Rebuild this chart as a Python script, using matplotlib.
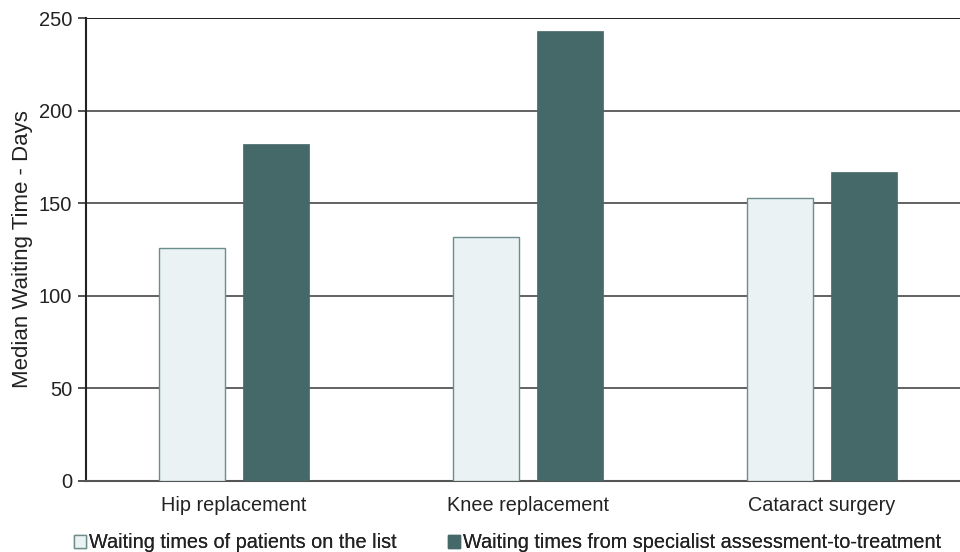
import matplotlib
matplotlib.use("Agg")
import matplotlib.pyplot as plt
import numpy as np
from matplotlib.patches import Patch

categories = ["Hip replacement", "Knee replacement", "Cataract surgery"]
on_list = [126, 132, 153]
assessment_to_treatment = [182, 243, 167]
series_labels = ["Waiting times of patients on the list",
                 "Waiting times from specialist assessment-to-treatment"]
y_ticks = [0, 50, 100, 150, 200, 250]

plt.rcParams["font.family"] = ["Liberation Sans", "DejaVu Sans"]

light = "#eaf2f4"
light_edge = "#6e8c8c"
dark = "#456868"
text_col = "#222222"
fs = 14.3

fig = plt.figure(figsize=(9.6, 5.52), dpi=100)
ax = fig.add_axes([86 / 960, 1 - 481 / 552, 1 - 86 / 960, (481 - 18) / 552])

x = np.arange(len(categories))
w = 0.2245
off = 0.143
ax.bar(x - off, on_list, w, color=light, edgecolor=light_edge, linewidth=1.0, zorder=3)
ax.bar(x + off, assessment_to_treatment, w, color=dark, edgecolor=dark, linewidth=0.5, zorder=3)

ax.set_xlim(-0.503, 2.469)
ax.set_ylim(0, 250)
ax.set_yticks(y_ticks)
ax.set_yticklabels([str(v) for v in y_ticks], fontsize=14.5, color=text_col)
ax.set_xticks(x)
ax.set_xticklabels(categories, fontsize=fs, color=text_col)
ax.tick_params(axis="x", length=0, pad=11)
ax.tick_params(axis="y", length=6, width=1.2, color="#333333", pad=4)

for v in y_ticks[1:]:
    ax.axhline(v, color="#555555", linewidth=1.3, zorder=1)
ax.axhline(250, color="#222222", linewidth=1.4, zorder=1)

for s in ["top", "right"]:
    ax.spines[s].set_visible(False)
ax.spines["left"].set_color("#222222")
ax.spines["left"].set_linewidth(1.5)
ax.spines["bottom"].set_color("#555555")
ax.spines["bottom"].set_linewidth(1.5)

ax.set_ylabel("Median Waiting Time - Days", fontsize=16, color=text_col)
ax.yaxis.set_label_coords(-(86 - 33) / 874, 0.5)

handles = [Patch(facecolor=light, edgecolor=light_edge, linewidth=1.0),
           Patch(facecolor=dark, edgecolor=dark)]
legend_x = [74 / 960, 448 / 960]
for h, lab, lx in zip(handles, series_labels, legend_x):
    leg = fig.legend([h], [lab], loc="center left", bbox_to_anchor=(lx, 1 - 543 / 552),
                     frameon=False, fontsize=fs, handlelength=0.6, handleheight=0.6,
                     handletextpad=0.15, borderpad=0, borderaxespad=0, labelcolor=text_col)
    fig.add_artist(leg)

fig.savefig("out.png", dpi=100)
